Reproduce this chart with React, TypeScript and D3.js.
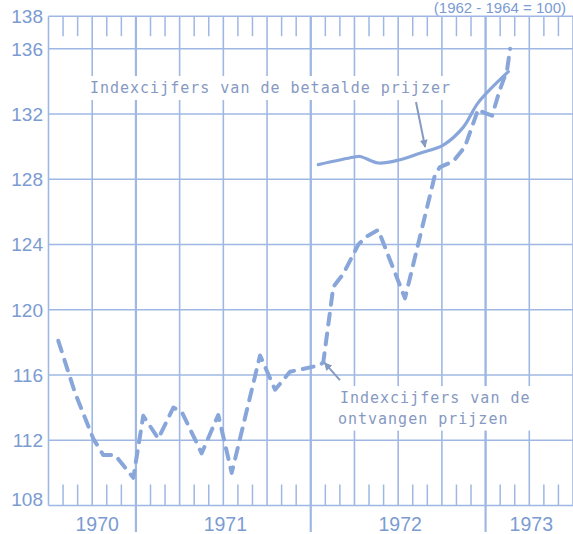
import React, { useRef, useEffect } from 'react';
import * as d3 from 'd3';

const W = 573;
const H = 534;

// y axis ticks (index, 1962-1964 = 100)
const yTicks = [108, 112, 116, 120, 124, 128, 132, 136, 138];
const years = [1970, 1971, 1972, 1973];

// Indexcijfers van de ontvangen prijzen (dashed) — decimal year / index
const ontvangenT = [
  1970.556, 1970.652, 1970.756, 1970.813, 1970.88, 1970.985, 1971.042, 1971.128,
  1971.214, 1971.262, 1971.376, 1971.471, 1971.548, 1971.71, 1971.796, 1971.881,
  1972.053, 1972.072, 1972.129, 1972.186, 1972.272, 1972.32, 1972.386, 1972.539,
  1972.711, 1972.739, 1972.815, 1972.882, 1972.958, 1972.987, 1973.037, 1973.082,
  1973.123, 1973.14,
];
const ontvangenV = [
  118.1, 114.9, 112.1, 111.1, 111.1, 109.7, 113.5, 112.1,
  114.0, 113.75, 111.2, 113.55, 110.0, 117.2, 115.1, 116.2,
  116.6, 116.8, 121.4, 122.2, 124.0, 124.5, 124.9, 120.7,
  128.3, 128.75, 129.1, 130.0, 132.3, 132.1, 131.9, 133.5,
  134.7, 136.0,
];

// Indexcijfers van de betaalde prijzen (solid)
const betaaldT = [1972.043, 1972.243, 1972.282, 1972.386, 1972.511, 1972.625, 1972.758, 1972.873, 1972.958, 1973.13];
const betaaldV = [128.9, 129.35, 129.4, 129.0, 129.2, 129.6, 130.1, 131.2, 132.7, 134.6];

const basisLabel = '(1962 - 1964 = 100)';
const betaaldLabel = ['Indexcijfers van de betaalde prijzer'];
const ontvangenLabel = ['Indexcijfers van de', 'ontvangen prijzen'];

const INK = '#88a6da';
const GRID = '#9fb8e3';
const TEXT = '#7b9bd2';
const NOTE = '#8699c2';

export default function App() {
  const svgRef = useRef<SVGSVGElement>(null);

  useEffect(() => {
    const svg = d3.select(svgRef.current);
    svg.selectAll('*').remove();

    const x = d3.scaleLinear().domain([1970.5, 1973.5]).range([48.5, 573]);
    const y = d3.scaleLinear().domain([108, 138]).range([505.5, 16.2]);
    const top = y(138);
    const bottom = y(108);
    const left = x(1970.5);
    const right = x(1973.5);

    // base year note, squeezed above the top border
    svg.append('text')
      .attr('x', 566)
      .attr('y', 13)
      .attr('text-anchor', 'end')
      .attr('fill', TEXT)
      .attr('font-size', 15)
      .attr('font-family', 'Liberation Sans, Arial, sans-serif')
      .text(basisLabel);

    // horizontal gridlines
    svg.append('g')
      .selectAll('line')
      .data(yTicks)
      .join('line')
      .attr('x1', left)
      .attr('x2', right + 5)
      .attr('y1', d => y(d))
      .attr('y2', d => y(d))
      .attr('stroke', GRID)
      .attr('stroke-width', 1.6);

    // months: quarters get full gridlines, other months short ticks
    const months = d3.range(0, 37).map(m => ({ m, t: 1970.5 + m / 12 }));
    const vg = svg.append('g').attr('stroke', GRID);
    vg.selectAll('line.q')
      .data(months.filter(d => d.m % 3 === 0))
      .join('line')
      .attr('class', 'q')
      .attr('x1', d => x(d.t))
      .attr('x2', d => x(d.t))
      .attr('y1', top)
      .attr('y2', bottom)
      .attr('stroke-width', 1.6);
    const minor = months.filter(d => d.m % 3 !== 0);
    vg.selectAll('line.mt')
      .data(minor)
      .join('line')
      .attr('class', 'mt')
      .attr('x1', d => x(d.t))
      .attr('x2', d => x(d.t))
      .attr('y1', top)
      .attr('y2', top + 20)
      .attr('stroke-width', 1.5);
    vg.selectAll('line.mb')
      .data(minor)
      .join('line')
      .attr('class', 'mb')
      .attr('x1', d => x(d.t))
      .attr('x2', d => x(d.t))
      .attr('y1', bottom - 21)
      .attr('y2', bottom)
      .attr('stroke-width', 1.5);

    // year boundaries, reaching below the axis
    vg.selectAll('line.yr')
      .data(years.filter(d => d > 1970))
      .join('line')
      .attr('class', 'yr')
      .attr('x1', d => x(d))
      .attr('x2', d => x(d))
      .attr('y1', top)
      .attr('y2', 532)
      .attr('stroke-width', 2.2);

    // y labels
    svg.append('g')
      .selectAll('text')
      .data(yTicks)
      .join('text')
      .attr('x', 43)
      .attr('y', d => y(d))
      .attr('dy', d => (d === 108 ? '0.05em' : '0.36em'))
      .attr('text-anchor', 'end')
      .attr('fill', TEXT)
      .attr('font-size', 19)
      .attr('font-family', 'Liberation Sans, Arial, sans-serif')
      .text(d => d);

    // year labels, centred on the visible part of each year
    svg.append('g')
      .selectAll('text')
      .data(years)
      .join('text')
      .attr('x', d => x((Math.max(d, 1970.5) + Math.min(d + 1, 1973.5)) / 2) + (d === 1970 ? 5 : 2))
      .attr('y', 531)
      .attr('text-anchor', 'middle')
      .attr('fill', TEXT)
      .attr('font-size', 19.5)
      .attr('font-family', 'Liberation Sans, Arial, sans-serif')
      .text(d => d);

    // annotation labels on white patches
    const addLabel = (lines: string[], t: number, v: number) => {
      const g = svg.append('g');
      const txt = g.append('text')
        .attr('fill', NOTE)
        .attr('font-size', 15)
        .attr('letter-spacing', 1)
        .attr('font-family', 'DejaVu Sans Mono, monospace');
      lines.forEach((l, i) => {
        txt.append('tspan')
          .attr('x', x(t) - (i > 0 ? 2 : 0))
          .attr('y', y(v) + i * 20.5)
          .text(l);
      });
      const bb = (txt.node() as SVGTextElement).getBBox();
      g.insert('rect', 'text')
        .attr('x', bb.x - 5)
        .attr('y', bb.y - 3)
        .attr('width', bb.width + 8)
        .attr('height', bb.height + 6)
        .attr('fill', '#fff');
    };
    addLabel(betaaldLabel, 1970.737, 133.29);
    addLabel(ontvangenLabel, 1972.167, 114.28);

    // series
    const ontvangen = ontvangenT.map((t, i) => ({ t, v: ontvangenV[i] }));
    const betaald = betaaldT.map((t, i) => ({ t, v: betaaldV[i] }));

    svg.append('path')
      .datum(ontvangen)
      .attr('fill', 'none')
      .attr('stroke', INK)
      .attr('stroke-width', 4)
      .attr('stroke-dasharray', '11 9')
      .attr('stroke-linecap', 'round')
      .attr('stroke-linejoin', 'round')
      .attr('d', d3.line<{ t: number; v: number }>().x(d => x(d.t)).y(d => y(d.v)));

    svg.append('path')
      .datum(betaald)
      .attr('fill', 'none')
      .attr('stroke', INK)
      .attr('stroke-width', 3.2)
      .attr('stroke-linecap', 'round')
      .attr('d', d3.line<{ t: number; v: number }>()
        .x(d => x(d.t)).y(d => y(d.v))
        .curve(d3.curveCatmullRom.alpha(0.5)));

    // pointer lines
    const defs = svg.append('defs');
    defs.append('marker')
      .attr('id', 'tip')
      .attr('viewBox', '0 0 10 10')
      .attr('refX', 9)
      .attr('refY', 5)
      .attr('markerWidth', 4)
      .attr('markerHeight', 4)
      .attr('orient', 'auto')
      .append('path')
      .attr('d', 'M0,0L10,5L0,10z')
      .attr('fill', NOTE);

    const pointers = [
      [[1972.602, 132.74], [1972.654, 129.98]],
      [[1972.167, 115.69], [1972.079, 116.74]],
    ];
    svg.append('g')
      .selectAll('line')
      .data(pointers)
      .join('line')
      .attr('x1', d => x(d[0][0]))
      .attr('y1', d => y(d[0][1]))
      .attr('x2', d => x(d[1][0]))
      .attr('y2', d => y(d[1][1]))
      .attr('stroke', NOTE)
      .attr('stroke-width', 2)
      .attr('marker-end', 'url(#tip)');
  }, []);

  return (
    <svg
      ref={svgRef}
      width={W}
      height={H}
      style={{ position: 'absolute', left: 0, top: 0, background: '#fff' }}
    />
  );
}
